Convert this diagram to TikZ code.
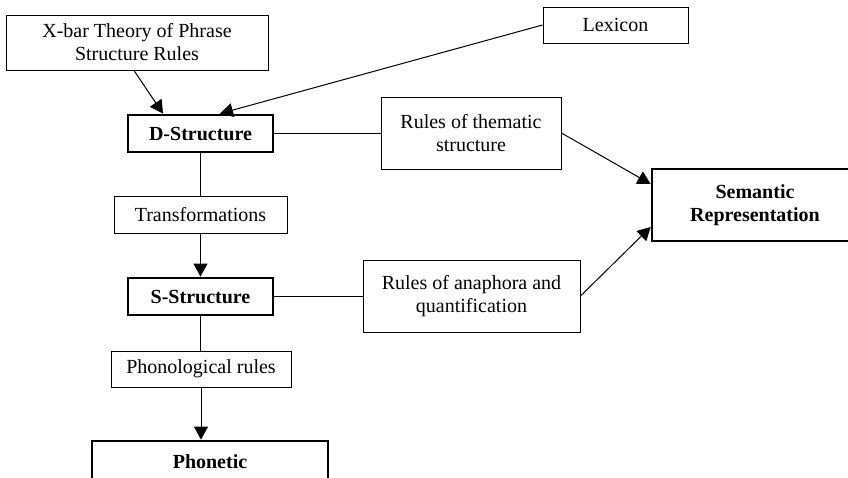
\documentclass[tikz,border=0pt]{standalone}
\usepackage{fontspec}
\setmainfont{Liberation Serif}
\usetikzlibrary{arrows.meta}
\begin{document}
\begin{tikzpicture}[x=1pt,y=-1pt,
  every node/.style={font=\fontsize{20}{23}\selectfont, align=center, inner sep=0pt},
  plain/.style={draw, line width=1pt, rectangle},
  level/.style={draw, line width=2.8pt, rectangle, font=\fontsize{20}{23}\selectfont\bfseries},
  link/.style={line width=1pt},
  arr/.style={line width=1pt, -{Triangle[length=13pt,width=14pt]}}]
\useasboundingbox[fill=white] (0,0) rectangle (848,477);
% boxes
\node[plain, minimum width=262pt, minimum height=55pt] (xbar) at (137,42.5) {X-bar Theory of Phrase\\Structure Rules};
\node[plain, minimum width=145pt, minimum height=36pt] (lex) at (615.5,25) {Lexicon};
\node[level, minimum width=145pt, minimum height=37pt] (dstr) at (200.5,133.5) {D-Structure};
\node[plain, minimum width=180pt, minimum height=72pt] (them) at (471,133) {Rules of thematic\\structure};
\node[level, minimum width=206pt, minimum height=72pt] (sem) at (755,205) {Semantic\\Representation};
\node[plain, minimum width=173pt, minimum height=37pt] (trans) at (200.5,214.5) {Transformations};
\node[level, minimum width=145pt, minimum height=37pt] (sstr) at (200.5,296.5) {S-Structure};
\node[plain, minimum width=217pt, minimum height=72pt] (anaph) at (471.5,296) {Rules of anaphora and\\quantification};
\node[plain, minimum width=180pt, minimum height=36pt] (phr) at (201,369) {Phonological rules};
\node[level, minimum width=236pt, minimum height=42pt] (phon) at (210,462) {Phonetic};
% connectors
\draw[arr] ([xshift=-3pt]xbar.south) -- ([xshift=-37.5pt]dstr.north);
\draw[arr] (lex.west) -- ([xshift=19.5pt]dstr.north);
\draw[link] (dstr.east) -- (dstr.east -| them.west);
\draw[arr] (them.east) -- ([yshift=21pt]sem.west);
\draw[link] (dstr.south) -- (trans.north);
\draw[arr] (trans.south) -- (sstr.north);
\draw[link] (sstr.east) -- (sstr.east -| anaph.west);
\draw[arr] (anaph.east) -- ([yshift=-22pt]sem.west);
\draw[link] (sstr.south) -- (sstr.south |- phr.north);
\draw[arr] (phr.south) -- (phr.south |- phon.north);
\end{tikzpicture}
\end{document}
